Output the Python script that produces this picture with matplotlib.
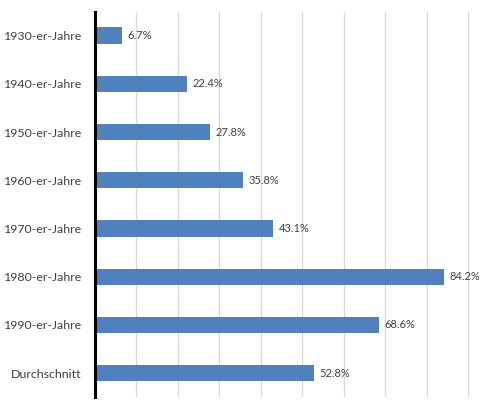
import matplotlib
matplotlib.use("Agg")
import matplotlib.pyplot as plt

categories = ["1930-er-Jahre", "1940-er-Jahre", "1950-er-Jahre", "1960-er-Jahre",
              "1970-er-Jahre", "1980-er-Jahre", "1990-er-Jahre", "Durchschnitt"]
values = [6.7, 22.4, 27.8, 35.8, 43.1, 84.2, 68.6, 52.8]
grid_ticks = [10, 20, 30, 40, 50, 60, 70, 80, 90]

plt.rcParams['font.family'] = ['Lato', 'DejaVu Sans']

fig = plt.figure(figsize=(4.8, 4.07), dpi=100)
ax = fig.add_axes([94.5/480, 1-397.3/407, (92*4.15)/480, (397.3-11.5)/407])

y = list(range(len(categories)))
ax.barh(y, values, height=0.34, color="#4F81BD", zorder=3)
ax.set_ylim(len(categories)-0.5, -0.5)
ax.set_xlim(0, 92)

ax.set_xticks(grid_ticks)
ax.xaxis.grid(True, color="#D9D9D9", linewidth=1.0, zorder=0)
ax.tick_params(axis='x', length=0, labelbottom=False)
ax.set_yticks(y)
ax.set_yticklabels(categories, fontsize=8.9, color="#404040")
ax.tick_params(axis='y', length=0, pad=9.2)

for s in ["top", "right", "bottom"]:
    ax.spines[s].set_visible(False)
ax.spines["left"].set_linewidth(2.2)
ax.spines["left"].set_color("black")
ax.spines["left"].set_zorder(4)

for yi, v in zip(y, values):
    ax.text(v + 1.3, yi, f"{v:.1f}%", va="center", ha="left", fontsize=8, color="#404040")

fig.savefig("out.png", dpi=100)
